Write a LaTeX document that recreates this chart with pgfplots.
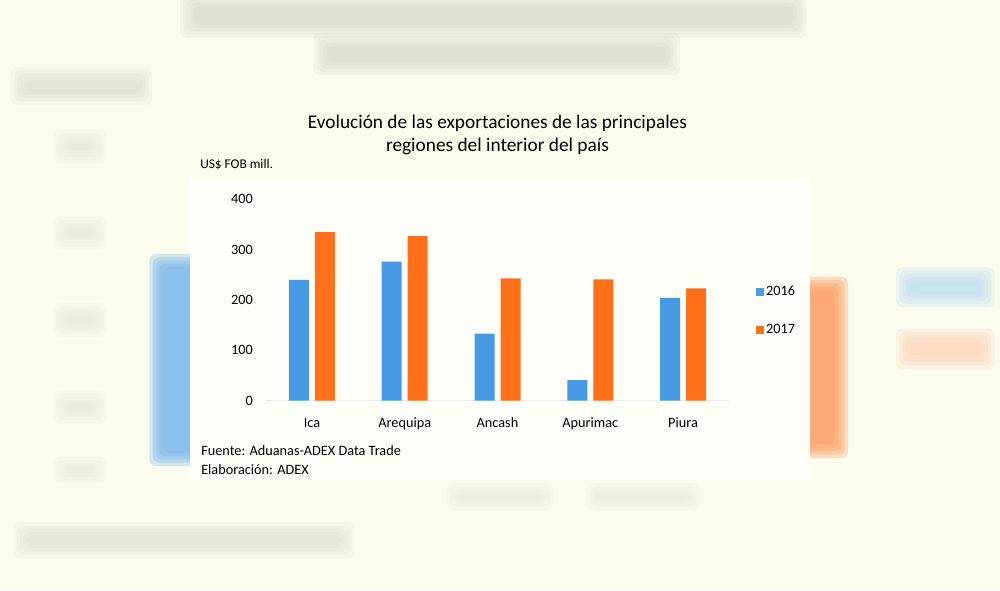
\documentclass[border=0pt]{standalone}
\usepackage{fontspec}
\setmainfont{Carlito}
\usepackage{pgfplots}
\pgfplotsset{compat=1.18}
\definecolor{bg}{RGB}{250,252,238}
\definecolor{panel}{RGB}{253,254,247}
\definecolor{cblue}{RGB}{70,155,228}
\definecolor{corange}{RGB}{255,112,25}
\definecolor{blurgray}{RGB}{205,209,193}
\newcommand{\blurrect}[6]{%
  \begin{scope}[x=1pt,y=1pt]
  \foreach \d in {0,2.5,5,7.5,10}{%
    \fill[#1, opacity=#2, rounded corners=5pt] ({#3+\d},{#4+\d}) rectangle ({#5-\d},{#6-\d});
  }
  \end{scope}}
\begin{document}
\begin{tikzpicture}
\useasboundingbox (0,0) rectangle (750pt,442.5pt);
\clip (0,0) rectangle (750pt,442.5pt);
\fill[bg] (0,0) rectangle (750pt,442.5pt);
% blurred background decoration
\blurrect{blurgray}{0.15}{135}{414}{605}{448}
\blurrect{blurgray}{0.15}{235}{386}{510}{418}
\blurrect{blurgray}{0.13}{8}{364}{114}{392}
\blurrect{blurgray}{0.1}{10}{24}{266}{51}
\blurrect{blurgray}{0.08}{40}{320}{80}{345}
\blurrect{blurgray}{0.08}{40}{255}{80}{280}
\blurrect{blurgray}{0.08}{40}{190}{80}{215}
\blurrect{blurgray}{0.08}{40}{125}{80}{150}
\blurrect{blurgray}{0.08}{40}{80}{80}{100}
\blurrect{cblue!75}{0.3}{112}{93}{160}{252}
\blurrect{corange!70}{0.3}{592}{99}{636}{235}
\blurrect{cblue!40}{0.2}{672}{212}{746}{242}
\blurrect{corange!35}{0.2}{672}{166}{746}{196}
\blurrect{blurgray}{0.08}{335}{60}{415}{80}
\blurrect{blurgray}{0.08}{440}{60}{525}{80}
% panel
\fill[panel] (142.5pt,82.5pt) rectangle (607.5pt,309pt);
\node[align=center, font=\fontsize{14.5}{17.25}\selectfont] at (373.1pt,341.6pt)
  {Evolución de las exportaciones de las principales\\regiones del interior del país};
\node[anchor=west, inner sep=0pt, font=\fontsize{10}{12}\selectfont] at (150pt,318.75pt) {US\$ FOB mill.};
\node[anchor=west, inner sep=0pt, font=\fontsize{10.7}{12}\selectfont] at (150.75pt,104.5pt) {Fuente: Aduanas-ADEX Data Trade};
\node[anchor=west, inner sep=0pt, font=\fontsize{10.7}{12}\selectfont] at (150.75pt,90pt) {Elaboración: ADEX};
\begin{axis}[
  at={(199.2pt,141.975pt)}, anchor=south west,
  scale only axis, width=347.85pt, height=151.05pt,
  xmin=-0.5, xmax=4.5, ymin=0, ymax=400,
  ybar=4.5pt, bar width=15pt,
  axis lines*=left,
  x axis line style={draw=black!8, line width=0.8pt},
  y axis line style={draw=none},
  tick style={draw=none},
  xtick={0,1,2,3,4},
  xticklabels={Ica,Arequipa,Ancash,Apurimac,Piura},
  ytick={0,100,200,300,400},
  /pgf/number format/assume math mode=true,
  ticklabel style={font=\fontsize{10.7}{12}\selectfont},
  yticklabel style={xshift=-6pt},
  xticklabel style={yshift=-5pt, text height=1.6ex, text depth=0.4ex},
  legend style={at={(axis description cs:1.057,0.584)}, anchor=north west,
    draw=none, fill=none, inner sep=0pt, font=\fontsize{10.7}{12}\selectfont,
    row sep=16pt, legend cell align=left},
]
\addplot[fill=cblue, draw=none, legend image code/.code={\fill[cblue] (0pt,-2.8pt) rectangle (5.6pt,2.8pt);}]
  coordinates {(0,240) (1,276) (2,133) (3,41) (4,204)};
\addplot[fill=corange, draw=none, legend image code/.code={\fill[corange] (0pt,-2.8pt) rectangle (5.6pt,2.8pt);}]
  coordinates {(0,335) (1,327) (2,243) (3,241) (4,223)};
\legend{2016,2017}
\end{axis}
\end{tikzpicture}
\end{document}
